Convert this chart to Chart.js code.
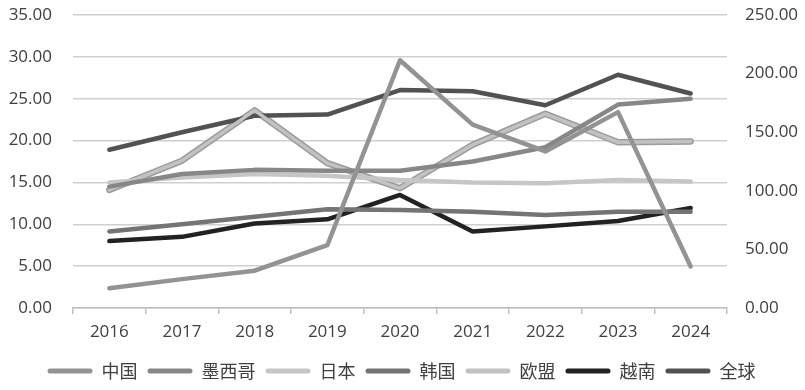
<!DOCTYPE html>
<html>
<head>
<meta charset="utf-8">
<script src="https://cdn.jsdelivr.net/npm/chart.js@4/dist/chart.umd.min.js"></script>
<style>
    html, body { margin: 0; padding: 0; background: #fff; }
    #box { width: 805px; height: 390px; position: relative; }
</style>
</head>
<body>
<div id="box"><canvas id="chart"></canvas></div>
<script>
const years = ['2016', '2017', '2018', '2019', '2020', '2021', '2022', '2023', '2024'];

// left axis values
const china = [2.36, 3.45, 4.45, 7.5, 29.6, 21.9, 18.7, 23.4, 4.95];
const mexico = [14.5, 16.0, 16.5, 16.4, 16.4, 17.5, 19.2, 24.3, 25.0];
const japan = [15.0, 15.6, 16.0, 15.8, 15.3, 15.0, 14.9, 15.3, 15.1];
const korea = [9.15, 10.0, 10.9, 11.8, 11.7, 11.5, 11.1, 11.5, 11.5];
const eu = [14.1, 17.6, 23.6, 17.3, 14.3, 19.5, 23.2, 19.8, 19.9];
const vietnam = [8.0, 8.5, 10.1, 10.6, 13.5, 9.15, 9.75, 10.4, 11.95];
// right axis values
const world = [135, 150, 164, 165, 186, 185, 173, 199, 183];

const leftTicks = [0, 5, 10, 15, 20, 25, 30, 35];
const rightTicks = [0, 50, 100, 150, 200, 250];

const font = { family: "'Open Sans', 'Noto Sans CJK SC', sans-serif", size: 17 };

function line(label, data, color, axis, width) {
    return {
        label: label,
        data: data,
        borderColor: color,
        backgroundColor: color,
        borderWidth: width || 4.5,
        pointRadius: 0,
        tension: 0,
        yAxisID: axis || 'y',
        borderCapStyle: 'round',
        borderJoinStyle: 'round',
        fill: false
    };
}

const euEdge = line('', eu, '#9c9c9c', 'y', 6.5);
euEdge.order = 5;

// fixed axis sizes so the plot area lands where the original has it
function fitY(width) {
    return s => {
        s.width = width;
        s.paddingTop = 0;
        s.paddingBottom = 0;
    };
}

new Chart(document.getElementById('chart'), {
    type: 'line',
    data: {
        labels: years,
        datasets: [
            line('中国', china, '#939393'),
            line('墨西哥', mexico, '#878787'),
            line('日本', japan, '#c6c6c6'),
            line('韩国', korea, '#747474'),
            line('欧盟', eu, '#c2c2c2', 'y', 3.5),
            line('越南', vietnam, '#222222'),
            line('全球', world, '#525252', 'y1'),
            euEdge
        ]
    },
    options: {
        responsive: true,
        maintainAspectRatio: false,
        animation: false,
        layout: { padding: { left: 5, right: 7, top: 15, bottom: 0 } },
        scales: {
            x: {
                offset: true,
                afterFit: s => { s.paddingLeft = 0; s.paddingRight = 0; s.height = 44; },
                grid: {
                    display: true,
                    drawOnChartArea: false,
                    drawTicks: true,
                    tickLength: 6,
                    offset: true,
                    color: '#bfbfbf',
                    lineWidth: 1.5
                },
                border: { display: true, color: '#bfbfbf', width: 1.5 },
                ticks: { color: '#404040', font: font, padding: 8, maxRotation: 0 }
            },
            y: {
                position: 'left',
                min: 0,
                max: 35,
                afterBuildTicks: axis => { axis.ticks = leftTicks.map(v => ({ value: v })); },
                afterFit: fitY(68),
                grid: { color: '#cfcfcf', lineWidth: 1.5, drawTicks: false },
                border: { display: false },
                ticks: { color: '#404040', font: font, padding: 21, callback: v => v.toFixed(2) }
            },
            y1: {
                position: 'right',
                min: 0,
                max: 250,
                afterBuildTicks: axis => { axis.ticks = rightTicks.map(v => ({ value: v })); },
                afterFit: fitY(71),
                grid: { drawOnChartArea: false, drawTicks: false },
                border: { display: false },
                ticks: { color: '#404040', font: font, padding: 18, callback: v => v.toFixed(2) }
            }
        },
        plugins: {
            legend: {
                position: 'bottom',
                labels: {
                    generateLabels: chart => {
                        const items = Chart.defaults.plugins.legend.labels.generateLabels(chart);
                        items.forEach(it => { it.lineWidth = 0; });
                        return items.filter(it => it.text !== '');
                    },
                    color: '#404040',
                    font: { family: "'Noto Sans CJK SC', sans-serif", size: 18 },
                    boxWidth: 45,
                    boxHeight: 5,
                    useBorderRadius: true,
                    borderRadius: 2.5,
                    padding: 10
                }
            },
            tooltip: { enabled: false }
        }
    }
});
</script>
</body>
</html>
